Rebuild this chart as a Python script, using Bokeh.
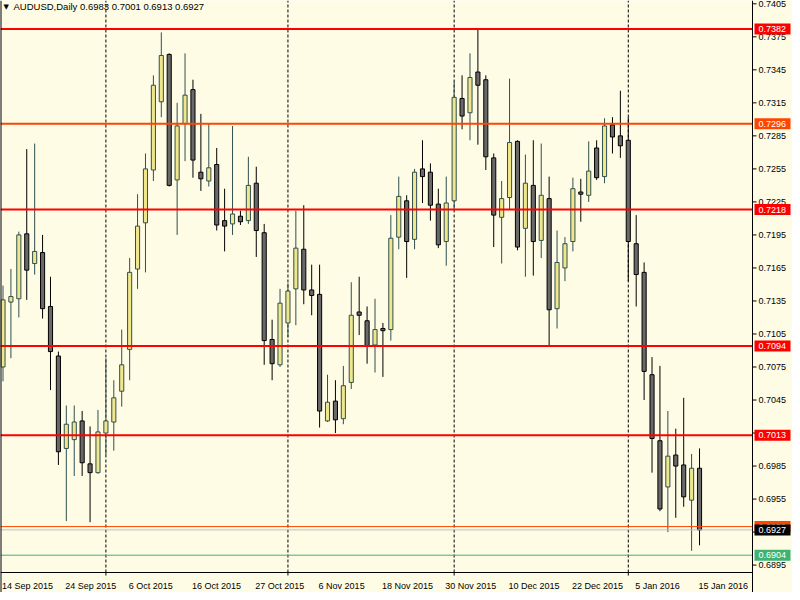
from bokeh.plotting import figure
from bokeh.models import Range1d, ColumnDataSource
from bokeh.core.properties import value
from bokeh.embed import file_html
from bokeh.resources import INLINE

# ---------------- data ----------------
symbol = "AUDUSD,Daily"

opens = [0.7075, 0.7134, 0.7137, 0.7196, 0.7169, 0.7179, 0.7130, 0.7085, 0.7001, 0.7009,
         0.7026, 0.6987, 0.6979, 0.7015, 0.7025, 0.7053, 0.7091, 0.7164, 0.7206, 0.7254,
         0.7316, 0.7359, 0.7245, 0.7296, 0.7327, 0.7252, 0.7244, 0.7259, 0.7208, 0.7205,
         0.7212, 0.7208, 0.7242, 0.7197, 0.7100, 0.7077, 0.7115, 0.7146, 0.7182, 0.7145,
         0.7141, 0.7026, 0.7044, 0.7028, 0.7061, 0.7125, 0.7117, 0.7095, 0.7110, 0.7109,
         0.7193, 0.7226, 0.7191, 0.7255, 0.7252, 0.7223, 0.7189, 0.7226, 0.7319, 0.7306,
         0.7343, 0.7336, 0.7265, 0.7211, 0.7229, 0.7280, 0.7201, 0.7240, 0.7190, 0.7228,
         0.7128, 0.7165, 0.7189, 0.7234, 0.7231, 0.7274, 0.7248, 0.7295, 0.7285, 0.7281,
         0.7187, 0.7161, 0.7068, 0.7008, 0.6966, 0.6995, 0.6986, 0.6954, 0.6983]
highs = [0.7149, 0.7164, 0.7198, 0.7273, 0.7278, 0.7195, 0.7157, 0.7089, 0.7040, 0.7040,
         0.7035, 0.7021, 0.7036, 0.7083, 0.7063, 0.7109, 0.7174, 0.7232, 0.7269, 0.7340,
         0.7379, 0.7360, 0.7315, 0.7360, 0.7336, 0.7305, 0.7296, 0.7274, 0.7237, 0.7294,
         0.7217, 0.7266, 0.7257, 0.7205, 0.7118, 0.7146, 0.7151, 0.7217, 0.7222, 0.7168,
         0.7168, 0.7068, 0.7063, 0.7076, 0.7152, 0.7157, 0.7130, 0.7137, 0.7115, 0.7213,
         0.7248, 0.7231, 0.7255, 0.7281, 0.7260, 0.7237, 0.7248, 0.7334, 0.7340, 0.7360,
         0.7383, 0.7340, 0.7269, 0.7244, 0.7337, 0.7281, 0.7268, 0.7281, 0.7278, 0.7248,
         0.7199, 0.7193, 0.7247, 0.7246, 0.7280, 0.7281, 0.7301, 0.7302, 0.7326, 0.7302,
         0.7213, 0.7170, 0.7084, 0.7076, 0.7035, 0.7019, 0.7047, 0.6996, 0.7001]
lows = [0.7062, 0.7083, 0.7120, 0.7136, 0.7159, 0.7119, 0.7054, 0.6986, 0.6935, 0.6976,
        0.6976, 0.6934, 0.6978, 0.6995, 0.6999, 0.7039, 0.7063, 0.7146, 0.7161, 0.7244,
        0.7302, 0.7239, 0.7195, 0.7262, 0.7247, 0.7235, 0.7239, 0.7199, 0.7180, 0.7195,
        0.7204, 0.7205, 0.7175, 0.7077, 0.7063, 0.7075, 0.7102, 0.7113, 0.7132, 0.7122,
        0.7020, 0.7025, 0.7015, 0.7023, 0.7055, 0.7104, 0.7078, 0.7070, 0.7066, 0.7099,
        0.7182, 0.7156, 0.7182, 0.7224, 0.7208, 0.7183, 0.7167, 0.7217, 0.7291, 0.7281,
        0.7277, 0.7254, 0.7184, 0.7169, 0.7218, 0.7181, 0.7157, 0.7158, 0.7174, 0.7094,
        0.7110, 0.7153, 0.7180, 0.7207, 0.7225, 0.7245, 0.7242, 0.7269, 0.7265, 0.7153,
        0.7130, 0.7045, 0.6979, 0.6944, 0.6925, 0.6938, 0.6948, 0.6908, 0.6913]
closes = [0.7136, 0.7139, 0.7195, 0.7163, 0.7180, 0.7128, 0.7089, 0.6998, 0.7023, 0.7025,
          0.6988, 0.6979, 0.7016, 0.7026, 0.7047, 0.7077, 0.7161, 0.7203, 0.7255, 0.7331,
          0.7358, 0.7240, 0.7294, 0.7322, 0.7263, 0.7246, 0.7256, 0.7204, 0.7203, 0.7214,
          0.7207, 0.7240, 0.7199, 0.7099, 0.7078, 0.7133, 0.7144, 0.7183, 0.7145, 0.7140,
          0.7035, 0.7043, 0.7027, 0.7058, 0.7122, 0.7122, 0.7094, 0.7109, 0.7108, 0.7192,
          0.7230, 0.7189, 0.7252, 0.7248, 0.7222, 0.7186, 0.7224, 0.7320, 0.7303, 0.7338,
          0.7331, 0.7266, 0.7213, 0.7228, 0.7279, 0.7184, 0.7242, 0.7189, 0.7231, 0.7127,
          0.7170, 0.7187, 0.7237, 0.7232, 0.7253, 0.7247, 0.7294, 0.7284, 0.7276, 0.7189,
          0.7159, 0.7071, 0.7010, 0.6946, 0.6994, 0.6985, 0.6957, 0.6983, 0.6927]

date_labels = ["14 Sep 2015", "24 Sep 2015", "6 Oct 2015", "16 Oct 2015", "27 Oct 2015",
               "6 Nov 2015", "18 Nov 2015", "30 Nov 2015", "10 Dec 2015", "22 Dec 2015",
               "5 Jan 2016", "15 Jan 2016"]
date_label_bars = [0, 8, 16, 24, 32, 40, 48, 56, 64, 72, 80, 88]
month_start_bars = [13, 36, 57, 79]

price_ticks = [0.7405, 0.7375, 0.7345, 0.7315, 0.7285, 0.7255, 0.7225, 0.7195, 0.7165,
               0.7135, 0.7105, 0.7075, 0.7045, 0.7015, 0.6985, 0.6955, 0.6925, 0.6895]

level_prices = [0.7382, 0.7296, 0.7218, 0.7094, 0.7013]
support_price = 0.6904
ask_price = 0.6930
bid_price = 0.6927

# ---------------- styles / layout ----------------
BG = "#FFFCE6"
BULL_FILL, BULL_LINE = "#F0E68C", "#2F4F4F"
BEAR_FILL, BEAR_LINE = "#696969", "#000000"
level_colors = ["#FF0000", "#FF4500", "#FF0000", "#FF0000", "#FF0000"]
SUPPORT_COLOR = "#3CB371"
ASK_COLOR = "#FF4500"
BID_COLOR = "#C0C0C0"
BID_TAG = "#000000"
FONT = value("Liberation Sans")
FS = value("9px")

W, H = 792, 592
PXW = 1 / 7.915            # bar units per pixel
PYH = 1 / 11006.0          # price units per pixel
XS = -0.316
XE = XS + W * PXW
AX = XS + 752 * PXW        # price-scale line
YE = 0.7408
YS = YE - H * PYH
AY = YE - 572 * PYH        # time-scale line

p = figure(width=W, height=H, output_backend="svg", toolbar_location=None,
           x_range=Range1d(XS, XE), y_range=Range1d(YS, YE),
           min_border_left=0, min_border_top=0, min_border_right=0, min_border_bottom=0,
           background_fill_color=BG, border_fill_color=BG, outline_line_color=None,
           x_axis_location=None, y_axis_location=None)
p.grid.visible = False

# month separators
nsep = len(month_start_bars)
p.segment(x0=month_start_bars, y0=[AY] * nsep, x1=month_start_bars, y1=[YE] * nsep,
          line_color="black", line_width=1, line_dash="3 2")

# candles
bars = list(range(len(opens)))
up = [c >= o for o, c in zip(opens, closes)]


def subset(flag):
    sel = [i for i in bars if up[i] == flag]
    return ColumnDataSource(dict(
        x=[bars[i] for i in sel],
        high=[highs[i] for i in sel],
        low=[lows[i] for i in sel],
        top=[max(opens[i], closes[i]) for i in sel],
        bottom=[min(opens[i], closes[i]) for i in sel]))


for flag, fill, line in [(True, BULL_FILL, BULL_LINE), (False, BEAR_FILL, BEAR_LINE)]:
    src = subset(flag)
    p.segment(x0="x", y0="high", x1="x", y1="low", source=src, line_color=line, line_width=1)
    p.vbar(x="x", width=0.52, top="top", bottom="bottom", source=src,
           fill_color=fill, line_color=line, line_width=1)

# horizontal price levels
nl = len(level_prices)
p.segment(x0=[XS] * nl, x1=[AX] * nl, y0=level_prices, y1=level_prices,
          line_color=level_colors, line_width=2)
p.segment(x0=[XS], x1=[AX], y0=[support_price], y1=[support_price],
          line_color=SUPPORT_COLOR, line_width=1)
p.segment(x0=[XS], x1=[AX], y0=[ask_price], y1=[ask_price], line_color=ASK_COLOR, line_width=1)
p.segment(x0=[XS], x1=[AX], y0=[bid_price], y1=[bid_price], line_color=BID_COLOR, line_width=1)

# frame lines: left edge, price scale, time scale
p.segment(x0=[XS, AX, XS], y0=[YS, YS, AY], x1=[XS, AX, AX], y1=[YE, YE, AY],
          line_color="black", line_width=[2, 1, 1])

# price scale ticks and labels
nt = len(price_ticks)
p.segment(x0=[AX] * nt, x1=[AX + 4 * PXW] * nt, y0=price_ticks, y1=price_ticks,
          line_color="black", line_width=1)
p.text(x=[AX + 6 * PXW] * nt, y=price_ticks, text=[f"{t:.4f}" for t in price_ticks],
       text_align="left", text_baseline="middle", text_font=FONT, text_font_size=FS,
       text_color="black")

# time scale ticks and labels
p.segment(x0=month_start_bars, x1=month_start_bars, y0=[AY] * nsep, y1=[AY - 3 * PYH] * nsep,
          line_color="black", line_width=1)
nd = len(date_label_bars)
p.text(x=[b - 1 * PXW for b in date_label_bars], y=[AY - 13 * PYH] * nd, text=date_labels,
       text_align="left", text_baseline="middle", text_font=FONT, text_font_size=FS,
       text_color="black")

# price tags on the scale (drawn one after another so later tags cover earlier ones)
tag_prices = level_prices + [ask_price, bid_price, support_price]
tag_colors = level_colors + [ASK_COLOR, BID_TAG, SUPPORT_COLOR]
for tp, tc in zip(tag_prices, tag_colors):
    p.quad(left=[AX + 2 * PXW], right=[AX + 38 * PXW],
           top=[tp + 5.5 * PYH], bottom=[tp - 5.5 * PYH],
           fill_color=tc, line_color=None)
    p.text(x=[AX + 6 * PXW], y=[tp], text=[f"{tp:.4f}"],
           text_align="left", text_baseline="middle", text_font=FONT, text_font_size=FS,
           text_color="white")

# title
title = f"{symbol}  {opens[-1]:.4f} {highs[-1]:.4f} {lows[-1]:.4f} {closes[-1]:.4f}"
p.text(x=[XS + 3 * PXW], y=[YE - 6 * PYH], text=["\u25BC"], text_align="left",
       text_baseline="middle", text_font=value("DejaVu Sans"), text_font_size=value("7px"),
       text_color="black")
p.text(x=[XS + 13 * PXW], y=[YE - 6 * PYH], text=[title], text_align="left",
       text_baseline="middle", text_font=FONT, text_font_size=value("9.5px"),
       text_color="black")

open("out.html", "w").write(file_html(p, INLINE))
